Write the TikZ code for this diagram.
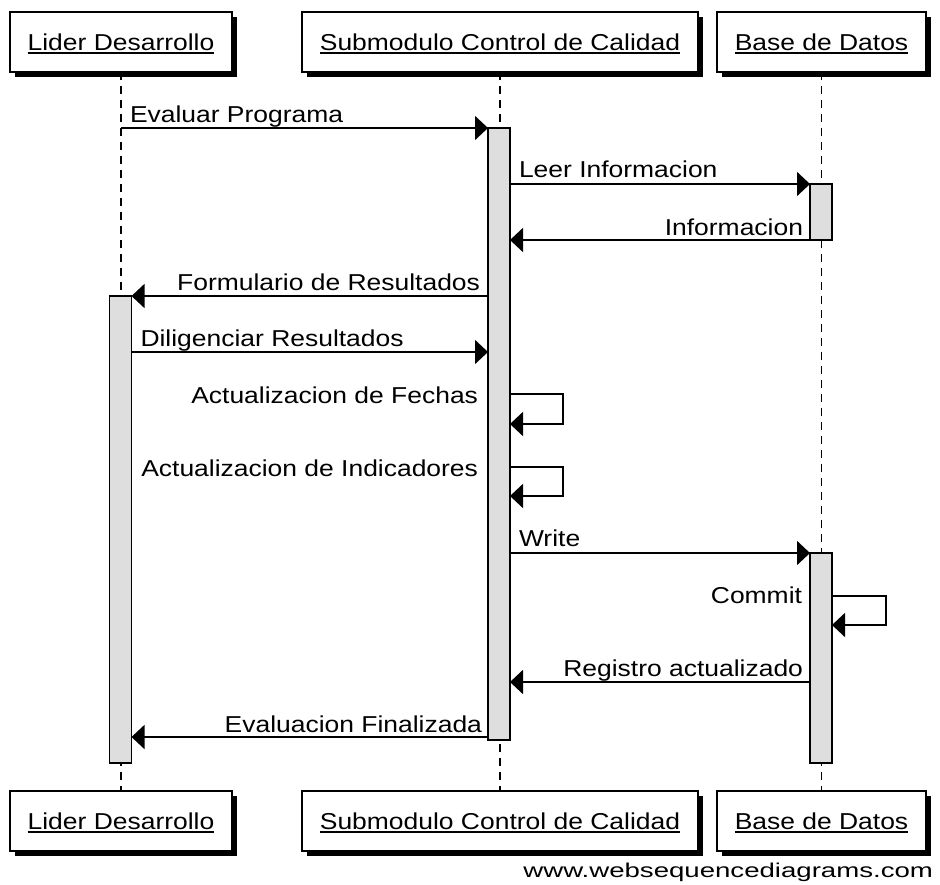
\documentclass[tikz,border=0pt]{standalone}
\usepackage{fontspec}
\setmainfont{Liberation Sans}[FakeStretch=1.15]
\newfontfamily\wmfont{Liberation Sans}[FakeStretch=1.38]
\usetikzlibrary{arrows.meta,shadows}
\definecolor{actfill}{RGB}{222,222,222}
% underlined participant name with a thick rule
\newcommand{\ulabel}[1]{\setbox0=\hbox{#1}\rlap{\rule[-4pt]{\wd0}{1.6pt}}\box0}
\pgfdeclarelayer{bg}
\pgfsetlayers{bg,main}
\begin{document}
\begin{tikzpicture}[x=1pt,y=-1pt,
  font=\fontsize{23}{27}\selectfont,
  actor/.style={draw, line width=1.8pt, fill=white, inner sep=0pt, outer sep=0pt,
    minimum height=60pt, text height=16pt, text depth=0pt,
    general shadow={fill=black, shadow xshift=5pt, shadow yshift=-5pt}},
  lifeline/.style={line width=1.8pt, dash pattern=on 8pt off 6pt},
  act/.style={draw, line width=1.5pt, fill=actfill, minimum width=22pt,
    inner sep=0pt, outer sep=0pt, anchor=north},
  msg/.style={line width=1.6pt, -{Triangle[length=13pt,width=24pt]}},
  lbl/.style={inner sep=0pt, outer sep=0pt}]
\useasboundingbox (0,0) rectangle (940,884);

% participants, top and bottom
\node[actor, minimum width=222pt] (ldTop) at (121,42) {\ulabel{Lider Desarrollo}};
\node[actor, minimum width=396pt] (scTop) at (500,42) {\ulabel{Submodulo Control de Calidad}};
\node[actor, minimum width=209pt] (bdTop) at (821.5,42) {\ulabel{Base de Datos}};
\node[actor, minimum width=222pt] (ldBot) at (121,821) {\ulabel{Lider Desarrollo}};
\node[actor, minimum width=396pt] (scBot) at (500,821) {\ulabel{Submodulo Control de Calidad}};
\node[actor, minimum width=209pt] (bdBot) at (821.5,821) {\ulabel{Base de Datos}};

% lifelines
\begin{pgfonlayer}{bg}
\draw[lifeline] (ldTop.south) -- (ldBot.north);
\draw[lifeline] (scTop.south) -- (scBot.north);
\draw[lifeline] (bdTop.south) -- (bdBot.north);
\end{pgfonlayer}

% activation bars
\node[act, minimum height=612pt] (scAct) at (499,128) {};
\node[act, minimum height=467pt] (ldAct) at (120.5,296) {};
\node[act, minimum height=56pt]  (bdActA) at (821,184) {};
\node[act, minimum height=210pt] (bdActB) at (821,553) {};

% message rows
\coordinate (r1) at (0,128);
\coordinate (r2) at (0,184);
\coordinate (r3) at (0,240);
\coordinate (r4) at (0,296);
\coordinate (r5) at (0,352);
\coordinate (r6) at (0,394);
\coordinate (r6b) at (0,424);
\coordinate (r7) at (0,467);
\coordinate (r7b) at (0,496);
\coordinate (r8) at (0,553);
\coordinate (r9) at (0,596);
\coordinate (r9b) at (0,625);
\coordinate (r10) at (0,682);
\coordinate (r11) at (0,737);

% messages
\draw[msg] (ldTop.south |- r1) -- (scAct.north west)
  node[lbl, pos=0, anchor=base west, xshift=9pt, yshift=6pt] (m1) {Evaluar Programa};
\draw[msg] (scAct.east |- r2) -- (bdActA.north west)
  node[lbl, pos=0, anchor=base west, xshift=9pt, yshift=7pt] (m2) {Leer Informacion};
\draw[msg] (bdActA.south west) -- (scAct.east |- r3)
  node[lbl, pos=0, anchor=base east, xshift=-7pt, yshift=5pt] (m3) {Informacion};
\draw[msg] (scAct.west |- r4) -- (ldAct.north east)
  node[lbl, pos=0, anchor=base east, xshift=-8pt, yshift=5.5pt] (m4) {Formulario de Resultados};
\draw[msg] (ldAct.east |- r5) -- (scAct.west |- r5)
  node[lbl, pos=0, anchor=base west, xshift=9pt, yshift=6pt] (m5) {Diligenciar Resultados};

\draw[msg] (scAct.east |- r6) -- ++(53,0) |- (scAct.east |- r6b);
\node[lbl, anchor=base east, xshift=-10pt, yshift=-9pt] (m6) at (scAct.west |- r6) {Actualizacion de Fechas};
\draw[msg] (scAct.east |- r7) -- ++(53,0) |- (scAct.east |- r7b);
\node[lbl, anchor=base east, xshift=-10pt, yshift=-9pt] (m7) at (scAct.west |- r7) {Actualizacion de Indicadores};

\draw[msg] (scAct.east |- r8) -- (bdActB.north west)
  node[lbl, pos=0, anchor=base west, xshift=9pt, yshift=6.5pt] (m8) {Write};

\draw[msg] (bdActB.east |- r9) -- ++(54,0) |- (bdActB.east |- r9b);
\node[lbl, anchor=base east, xshift=-8pt, yshift=-7pt] (m9) at (bdActB.west |- r9) {Commit};

\draw[msg] (bdActB.west |- r10) -- (scAct.east |- r10)
  node[lbl, pos=0, anchor=base east, xshift=-7pt, yshift=5.5pt] (m10) {Registro actualizado};
\draw[msg] (scAct.west |- r11) -- (ldAct.east |- r11)
  node[lbl, pos=0, anchor=base east, xshift=-6pt, yshift=5pt] (m11) {Evaluacion Finalizada};

% footer
\node[lbl, anchor=base east, font=\wmfont\fontsize{20}{24}\selectfont] (wm) at (933,877) {www.websequencediagrams.com};
\end{tikzpicture}
\end{document}
